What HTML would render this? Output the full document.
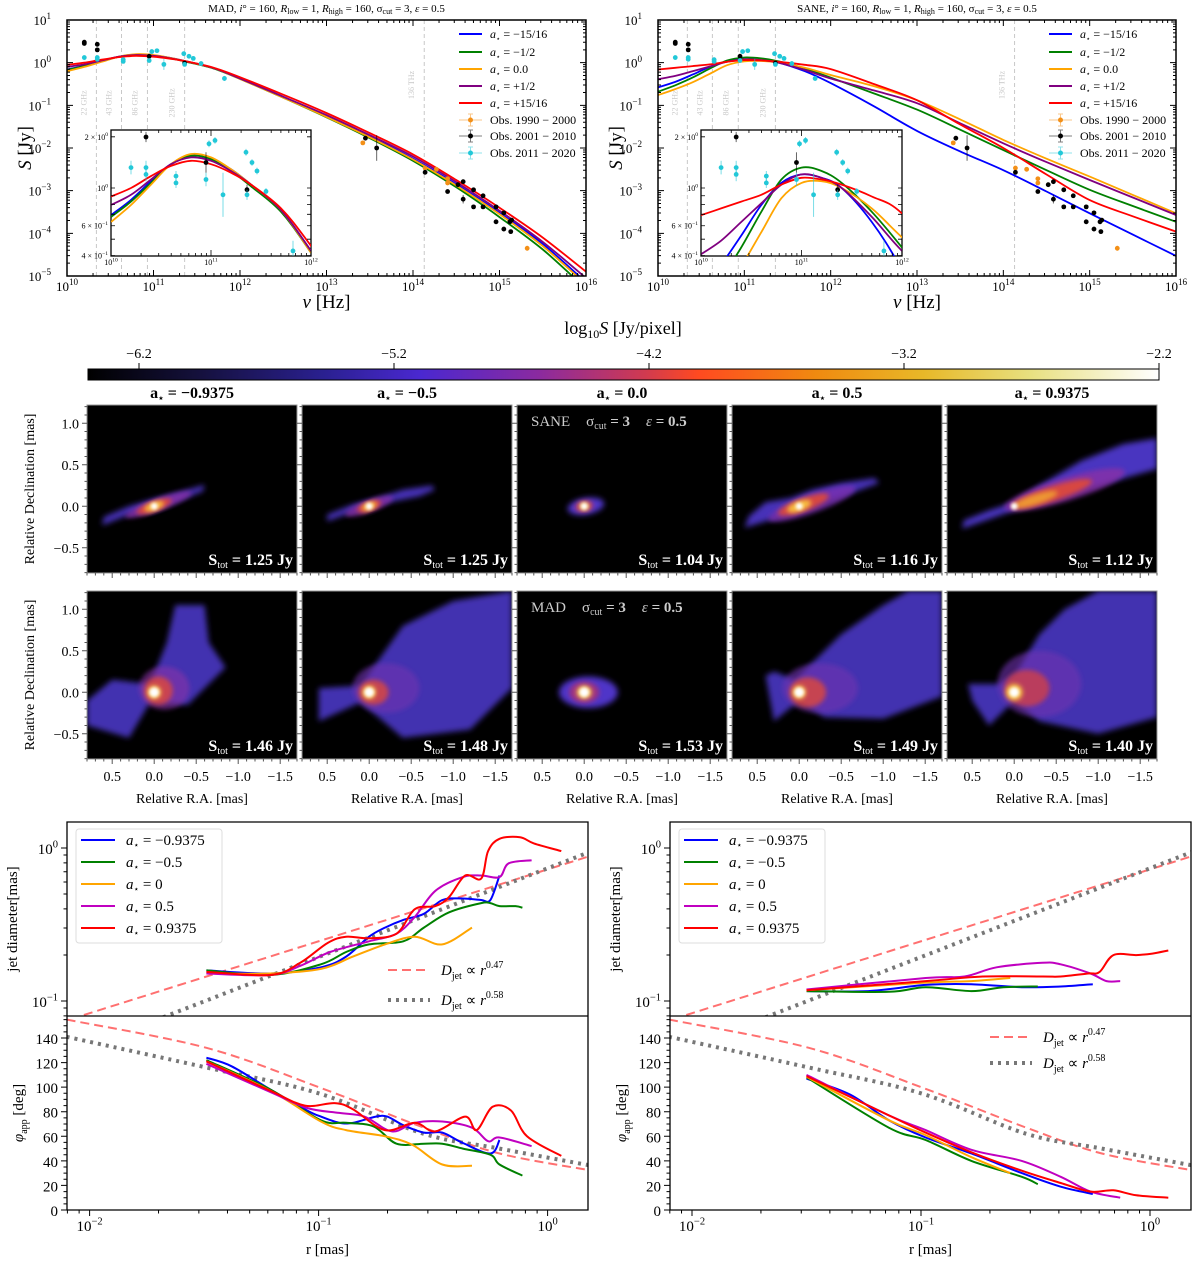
<!DOCTYPE html>
<html><head><meta charset="utf-8"><style>
html,body{margin:0;padding:0;background:#fff;}
svg{display:block;font-family:"Liberation Serif",serif;}
</style></head><body>
<svg id="fig" width="1200" height="1262" viewBox="0 0 1200 1262" xmlns="http://www.w3.org/2000/svg">
<defs>
<filter id="blur3" x="-30%" y="-30%" width="160%" height="160%"><feGaussianBlur stdDeviation="3"/></filter>
<filter id="blur2" x="-30%" y="-30%" width="160%" height="160%"><feGaussianBlur stdDeviation="2.5"/></filter>
<filter id="blur1" x="-30%" y="-30%" width="160%" height="160%"><feGaussianBlur stdDeviation="1.6"/></filter>
<linearGradient id="cmap" x1="0" x2="1" y1="0" y2="0">
<stop offset="0" stop-color="#000000"/><stop offset="0.1" stop-color="#14103a"/><stop offset="0.22" stop-color="#2a2090"/>
<stop offset="0.31" stop-color="#4a28d0"/><stop offset="0.42" stop-color="#8a2aa0"/><stop offset="0.52" stop-color="#d03a50"/>
<stop offset="0.57" stop-color="#ff4a20"/><stop offset="0.68" stop-color="#f08a10"/><stop offset="0.78" stop-color="#e8b828"/>
<stop offset="0.88" stop-color="#e8e080"/><stop offset="1" stop-color="#ffffff"/></linearGradient>
</defs>
</svg>
<script>
// ---------- DATA: SED ----------
const sedNu=[10,10.2,10.4,10.6,10.8,11.0,11.2,11.4,11.7,12,12.5,13,13.5,14,14.5,15,15.5,16];
const madBlue=[-0.16,-0.07,0.04,0.14,0.19,0.17,0.11,0.02,-0.13,-0.37,-0.8,-1.25,-1.73,-2.25,-2.85,-3.52,-4.25,-5.15];
const madGreen=[-0.17,-0.08,0.03,0.14,0.19,0.17,0.1,0.01,-0.14,-0.38,-0.82,-1.28,-1.77,-2.3,-2.92,-3.62,-4.38,-5.3];
const madOrange=[-0.2,-0.1,0.02,0.14,0.2,0.18,0.11,0.02,-0.13,-0.38,-0.82,-1.27,-1.75,-2.27,-2.88,-3.55,-4.3,-5.2];
const madPurple=[-0.1,-0.04,0.05,0.14,0.18,0.16,0.1,0.02,-0.13,-0.37,-0.8,-1.23,-1.7,-2.2,-2.8,-3.47,-4.2,-5.05];
const madRed=[-0.05,0.0,0.07,0.13,0.16,0.14,0.09,0.02,-0.12,-0.34,-0.75,-1.18,-1.65,-2.15,-2.75,-3.4,-4.1,-4.9];
const saneBlue=[-0.58,-0.45,-0.28,-0.1,0.03,0.08,0.06,0.0,-0.2,-0.48,-1.02,-1.6,-2.08,-2.52,-3.02,-3.53,-4.03,-4.53];
const saneGreen=[-0.68,-0.53,-0.35,-0.14,0.05,0.12,0.1,0.03,-0.14,-0.35,-0.72,-1.1,-1.57,-2.05,-2.52,-2.98,-3.36,-3.73];
const saneOrange=[-0.76,-0.62,-0.46,-0.26,-0.06,0.03,0.04,0.0,-0.12,-0.29,-0.55,-0.88,-1.33,-1.81,-2.25,-2.67,-3.1,-3.53];
const sanePurple=[-0.39,-0.31,-0.2,-0.09,0.02,0.08,0.06,0.0,-0.17,-0.37,-0.65,-0.95,-1.42,-1.89,-2.33,-2.75,-3.16,-3.57];
const saneRed=[-0.16,-0.12,-0.08,-0.04,0.02,0.06,0.05,0.02,-0.05,-0.15,-0.5,-0.88,-1.45,-2.0,-2.62,-3.22,-3.6,-3.96];
const spinLabels=['\u221215/16','\u22121/2','0.0','+1/2','+15/16'];
const obsBlackNu=[10.2,10.2,10.35,10.35,10.95,11.36,13.45,13.58,14.14,14.4,14.52,14.58,14.58,14.7,14.7,14.81,14.81,14.96,14.96,15.05,15.05,15.12,15.13,15.14];
const obsBlackS=[0.48,0.45,0.43,0.3,0.15,-0.01,-1.77,-2.0,-2.57,-3.02,-2.86,-2.79,-3.2,-2.98,-3.38,-3.12,-3.38,-3.38,-3.73,-3.52,-3.9,-3.73,-3.96,-3.69];
const obsBlackErr=[0.03,0.03,0.03,0.03,0.06,0.03,0.03,0.3,0.05,0.05,0.03,0.03,0.1,0.03,0.03,0.03,0.05,0.03,0.03,0.03,0.03,0.03,0.03,0.03];
const obsOrangeNu=[13.42,14.14,14.27,14.4,14.4,15.32];
const obsOrangeS=[-1.88,-2.47,-2.5,-2.72,-2.82,-4.35];
const obsOrangeErr=[0.05,0.05,0.05,0.05,0.05,0.06];
const obsCyanNu=[10.2,10.35,10.35,10.65,10.65,10.95,10.98,11.04,11.12,11.35,11.41,11.46,11.36,11.55,11.82];
const obsCyanS=[0.12,0.12,0.08,0.07,0.03,0.05,0.26,0.28,-0.04,0.21,0.15,0.1,-0.04,-0.02,-0.37];
const obsCyanErr=[0.04,0.04,0.04,0.03,0.03,0.04,0.02,0.02,0.13,0.02,0.02,0.02,0.03,0.02,0.06];
const refNu=[10.34,10.63,10.93,11.36,14.13];
const refNuLabels=['22 GHz','43 GHz','86 GHz','230 GHz','136 THz'];
// ---------- DATA: jet profiles ----------
const madDR={blue:[-1.49,-1.21,-0.99,-0.88,-0.78,-0.71,-0.63,-0.54,-0.46,-0.37,-0.29,-0.25,-0.21],
 green:[-1.49,-1.21,-0.99,-0.88,-0.78,-0.63,-0.54,-0.43,-0.29,-0.25,-0.21,-0.14,-0.11],
 orange:[-1.49,-1.21,-0.99,-0.85,-0.71,-0.58,-0.46,-0.33],
 purple:[-1.49,-1.21,-1.08,-0.95,-0.78,-0.66,-0.58,-0.49,-0.37,-0.29,-0.21,-0.17,-0.07],
 red:[-1.49,-1.21,-1.08,-0.96,-0.88,-0.78,-0.66,-0.58,-0.49,-0.43,-0.36,-0.29,-0.26,-0.21,-0.12,-0.06,0.06]};
const madDV={blue:[-0.80,-0.82,-0.78,-0.71,-0.58,-0.52,-0.47,-0.43,-0.34,-0.33,-0.34,-0.34,-0.18],
 green:[-0.80,-0.83,-0.76,-0.68,-0.63,-0.61,-0.52,-0.42,-0.36,-0.36,-0.38,-0.38,-0.39],
 orange:[-0.82,-0.82,-0.79,-0.71,-0.63,-0.58,-0.63,-0.52],
 purple:[-0.82,-0.83,-0.77,-0.68,-0.61,-0.56,-0.45,-0.28,-0.19,-0.18,-0.19,-0.10,-0.08],
 red:[-0.81,-0.83,-0.75,-0.62,-0.58,-0.59,-0.56,-0.40,-0.38,-0.32,-0.18,-0.20,-0.02,0.06,0.07,0.03,-0.02]};
const madPR={blue:[-1.49,-1.38,-1.21,-1.05,-0.99,-0.91,-0.85,-0.75,-0.70,-0.63,-0.54,-0.46,-0.37,-0.25,-0.21],
 green:[-1.49,-1.21,-0.99,-0.88,-0.76,-0.66,-0.54,-0.46,-0.37,-0.25,-0.21,-0.11],
 orange:[-1.49,-1.21,-0.99,-0.88,-0.71,-0.59,-0.46,-0.33],
 purple:[-1.49,-1.21,-1.05,-0.91,-0.80,-0.68,-0.58,-0.46,-0.33,-0.26,-0.21,-0.07],
 red:[-1.49,-1.21,-1.06,-0.93,-0.85,-0.71,-0.58,-0.49,-0.36,-0.31,-0.24,-0.16,-0.09,0.06]};
const madPV={blue:[124,117,98,81,76,71,71,76,76,69,63,63,54.5,46,57],
 green:[122,98,73,71,68,54,54,54,50,45,37,28],
 orange:[121,97,72,65,60,53,37,36],
 purple:[119,96,83,79,76,64,71,72,67,56,59,52],
 red:[121,97,85,87,82,65,71,64,76,65,84,81,60,44]};
const saneDR={blue:[-1.50,-1.23,-0.98,-0.78,-0.56,-0.39,-0.25],
 green:[-1.50,-1.14,-0.98,-0.78,-0.64,-0.49],
 orange:[-1.50,-0.98,-0.78,-0.61],
 purple:[-1.50,-0.98,-0.81,-0.67,-0.47,-0.39,-0.26,-0.19,-0.13],
 red:[-1.50,-0.98,-0.73,-0.47,-0.39,-0.27,-0.22,-0.16,-0.06,0.01,0.08]};
const saneDV={blue:[-0.935,-0.935,-0.895,-0.89,-0.91,-0.905,-0.89],
 green:[-0.935,-0.94,-0.91,-0.935,-0.91,-0.905],
 orange:[-0.93,-0.88,-0.87,-0.85],
 purple:[-0.925,-0.85,-0.84,-0.78,-0.75,-0.76,-0.82,-0.87,-0.87],
 red:[-0.93,-0.87,-0.84,-0.84,-0.84,-0.82,-0.81,-0.70,-0.70,-0.69,-0.67]};
const sanePR={blue:[-1.50,-1.31,-1.14,-0.98,-0.78,-0.56,-0.39,-0.25],
 green:[-1.50,-1.14,-0.98,-0.78,-0.56,-0.49],
 orange:[-1.50,-1.14,-0.98,-0.78,-0.61],
 purple:[-1.50,-1.14,-0.98,-0.78,-0.56,-0.39,-0.26,-0.13],
 red:[-1.50,-1.14,-0.98,-0.78,-0.56,-0.39,-0.26,-0.16,-0.06,0.08]};
const sanePV={blue:[107,94,73,59,46,30,19,13],
 green:[108,67,57,40,27,21],
 orange:[108.5,73,61,43,30],
 purple:[110,77,65,49,40,27,15,10],
 red:[109,77,63,47,32,22,15,16,12,10]};
const fitExp=[0.47,0.58];
const fitAnchorR=[-1.49,0.177];
const fitAnchorD=[-0.84,-0.03];
const phiFitR=[-2.1,-1.49,-1.0,-0.54,-0.21,0.18];
const phiFitDash=[155,132,100,67,46,32.5];
const phiFitDot=[141,116,95,62,50,36.5];
const jetSpinLabels=['\u22120.9375','\u22120.5','0','0.5','0.9375'];
// ---------- DATA: images ----------
const imgSpins=['\u22120.9375','\u22120.5','0.0','0.5','0.9375'];
const saneFlux=['1.25','1.25','1.04','1.16','1.12'];
const madFlux=['1.46','1.48','1.53','1.49','1.40'];
const cbTicks=[-6.2,-5.2,-4.2,-3.2,-2.2];

// ---------- helpers ----------
const NS='http://www.w3.org/2000/svg';
const svg=document.getElementById('fig');
function mk(tag,attrs,parent){const e=document.createElementNS(NS,tag);for(const k in attrs)e.setAttribute(k,attrs[k]);(parent||svg).appendChild(e);return e;}
function smooth(p){if(!p.length)return'';let d='M'+p[0][0].toFixed(1)+','+p[0][1].toFixed(1);
 for(let i=0;i<p.length-1;i++){const p0=p[i-1]||p[i],p1=p[i],p2=p[i+1],p3=p[i+2]||p2;
 const c1=[p1[0]+(p2[0]-p0[0])/6,p1[1]+(p2[1]-p0[1])/6],c2=[p2[0]-(p3[0]-p1[0])/6,p2[1]-(p3[1]-p1[1])/6];
 d+='C'+c1[0].toFixed(1)+','+c1[1].toFixed(1)+' '+c2[0].toFixed(1)+','+c2[1].toFixed(1)+' '+p2[0].toFixed(1)+','+p2[1].toFixed(1);}return d;}
function sup(base,exp,fs){return base+'<tspan dy="-'+(fs*0.45)+'" font-size="'+(fs*0.7)+'">'+exp+'</tspan>';}
let clipId=0;
function clip(x,y,w,h){const id='c'+(clipId++);const cp=mk('clipPath',{id:id},svg.querySelector('defs'));mk('rect',{x:x,y:y,width:w,height:h},cp);return 'url(#'+id+')';}
const spinColors=['#0000ff','#008000','#ffa500','#800080','#ff0000'];
const jetColors=['#0000ff','#008000','#ffa500','#c000c0','#ff0000'];
const keys=['blue','green','orange','purple','red'];

// ---------- SED panels ----------
function sedPanel(L,R,title,curves,iL,iR,name){
 const T=20,B=276;
 const g=mk('g',{});
 
 
 const X=v=>L+(v-10)*(R-L)/6, Y=v=>T+(1-v)*(B-T)/6;
 const t=mk('text',{x:(L+R)/2,y:12,'text-anchor':'middle','font-size':11},g);
 
 
 t.innerHTML=title;
 refNu.forEach((n,i)=>{
  const l=mk('line',{x1:X(n),x2:X(n),y1:T,y2:B,stroke:'#c8c8c8','stroke-dasharray':'4,3','stroke-width':1},g);
  
  
  const tx=mk('text',{x:0,y:0,'font-size':8,fill:'#c8c8c8','text-anchor':'middle',transform:'translate('+(X(n)-10)+','+(i==4?85:103)+') rotate(-90)'},g);
  
  
  tx.textContent=refNuLabels[i];
 });
 const cpMain=clip(L,T,R-L,B-T);
 const cg=mk('g',{'clip-path':cpMain},g);
 curves.forEach((c,k)=>{
  const p=mk('path',{d:smooth(sedNu.map((n,i)=>[X(n),Y(c[i])])),fill:'none',stroke:spinColors[k],'stroke-width':1.8},cg);
  
  
 });
 function obs(par,Xf,Yf,nu,s,err,col,nm){
  nu.forEach((n,i)=>{
   const e=mk('line',{x1:Xf(n),x2:Xf(n),y1:Yf(s[i]+err[i]),y2:Yf(s[i]-err[i]),stroke:col,'stroke-width':1,opacity:0.6},par);
   
   
   const m=mk('circle',{cx:Xf(n),cy:Yf(s[i]),r:2.4,fill:col},par);
   
   
  });
 }
 obs(cg,X,Y,obsOrangeNu,obsOrangeS,obsOrangeErr,'#f39018','obs-1990-2000');
 obs(cg,X,Y,obsBlackNu,obsBlackS,obsBlackErr,'#000','obs-2001-2010');
 obs(cg,X,Y,obsCyanNu,obsCyanS,obsCyanErr,'#22c8d8','obs-2011-2020');
 const fr=mk('rect',{x:L,y:T,width:R-L,height:B-T,fill:'none',stroke:'#000','stroke-width':1.5},g);
 
 
 let tk='';
 for(let d=10;d<=16;d++){const x=X(d);tk+=`M${x},${B}v-6M${x},${T}v6`;
  if(d<16)for(let m=2;m<10;m++){const xm=X(d+Math.log10(m));tk+=`M${xm},${B}v-3M${xm},${T}v3`;}}
 for(let d=-5;d<=1;d++){const y=Y(d);tk+=`M${L},${y}h6M${R},${y}h-6`;
  if(d<1)for(let m=2;m<10;m++){const ym=Y(d+Math.log10(m));tk+=`M${L},${ym}h3M${R},${ym}h-3`;}}
 const tp=mk('path',{d:tk,stroke:'#000','stroke-width':1,fill:'none'},g);
 
 
 for(let d=10;d<=16;d++){const tl=mk('text',{x:X(d),y:291,'text-anchor':'middle','font-size':13},g);
  
  
  tl.innerHTML=sup('10',d,13);}
 for(let d=-5;d<=1;d++){const tl=mk('text',{x:L-16,y:Y(d)+5,'text-anchor':'end','font-size':13},g);
  
  
  tl.innerHTML=sup('10',d<0?'\u2212'+(-d):d,13);}
 const xl=mk('text',{x:(L+R)/2,y:308,'text-anchor':'middle','font-size':19},g);
 
 
 xl.innerHTML='<tspan font-style="italic">\u03bd</tspan> [Hz]';
 const yl=mk('text',{x:0,y:0,'text-anchor':'middle','font-size':19,transform:'translate('+(L-36)+','+(T+128)+') rotate(-90)'},g);
 
 
 yl.innerHTML='<tspan font-style="italic">S</tspan> [Jy]';
 const lx=R-127, rows=[34,52,69,86,103,120,136,153];
 curves.forEach((c,k)=>{
  const ln=mk('line',{x1:lx,x2:lx+23,y1:rows[k],y2:rows[k],stroke:spinColors[k],'stroke-width':2},g);
  
  
  const lt=mk('text',{x:lx+31,y:rows[k]+4,'font-size':12},g);
  
  
  lt.innerHTML='<tspan font-style="italic">a</tspan><tspan font-size="7" dy="3">\u22c6</tspan><tspan dy="-3"> = '+spinLabels[k]+'</tspan>';
 });
 const oc=['#f39018','#000','#22c8d8'], on=['Obs. 1990 \u2212 2000','Obs. 2001 \u2212 2010','Obs. 2011 \u2212 2020'];
 oc.forEach((c,j)=>{const y=rows[5+j];
  const m=mk('path',{d:`M${lx},${y}h23M${lx+11.5},${y-6}v12M${lx+9},${y-6}h5M${lx+9},${y+6}h5`,stroke:c,'stroke-width':1,opacity:0.5,fill:'none'},g);
  
  
  const ci=mk('circle',{cx:lx+11.5,cy:y,r:2.5,fill:c},g);
  
  
  const lt=mk('text',{x:lx+31,y:y+4,'font-size':12},g);
  
  
  lt.textContent=on[j];});
 const iT=130,iB=256;
 const XI=v=>iL+(v-10)*(iR-iL)/2, YI=v=>188-v*170;
 const bg=mk('rect',{x:iL,y:iT,width:iR-iL,height:iB-iT,fill:'#fff',stroke:'#000','stroke-width':1.3},g);
 
 
 const ig=mk('g',{'clip-path':clip(iL,iT,iR-iL,iB-iT)},g);
 
 
 curves.forEach((c,k)=>{
  const p=mk('path',{d:smooth(sedNu.map((n,i)=>[XI(n),YI(c[i])])),fill:'none',stroke:spinColors[k],'stroke-width':1.8},ig);
  
  
 });
 obs(ig,XI,YI,obsBlackNu,obsBlackS,obsBlackErr,'#000','inset-obs-2001-2010');
 obs(ig,XI,YI,obsCyanNu,obsCyanS,obsCyanErr,'#22c8d8','inset-obs-2011-2020');
 let it='';
 for(let d=10;d<=12;d++){const x=XI(d);it+=`M${x},${iB}v-6M${x},${iT}v6`;
  if(d<12)for(let m=2;m<10;m++){const xm=XI(d+Math.log10(m));it+=`M${xm},${iB}v-3M${xm},${iT}v3`;}}
 [0.4,0.5,0.6,0.7,0.8,0.9,1,2].forEach(v=>{const y=YI(Math.log10(v));it+=`M${iL},${y}h4M${iR},${y}h-4`;});
 const ip=mk('path',{d:it,stroke:'#000','stroke-width':0.8,fill:'none'},g);
 
 
 [[2,'2 \u00d7 10','0'],[1,'10','0'],[0.6,'6 \u00d7 10','\u22121'],[0.4,'4 \u00d7 10','\u22121']].forEach(a=>{
  const tl=mk('text',{x:iL-3,y:YI(Math.log10(a[0]))+3,'text-anchor':'end','font-size':8},g);
  
  
  tl.innerHTML=sup(a[1],a[2],8);});
 for(let d=10;d<=12;d++){const tl=mk('text',{x:XI(d),y:iB+9,'text-anchor':'middle','font-size':8},g);
  
  
  tl.innerHTML=sup('10',d,8);}
}
const sub=(s)=>'<tspan font-size="8" dy="2">'+s+'</tspan><tspan dy="-2">';
sedPanel(67,586,'MAD, <tspan font-style="italic">i</tspan>\u00b0 = 160, <tspan font-style="italic">R</tspan>'+sub('low')+' = 1, </tspan><tspan font-style="italic">R</tspan>'+sub('high')+' = 160, \u03c3</tspan>'+sub('cut')+' = 3, </tspan><tspan font-style="italic">\u03b5</tspan> = 0.5',
 [madBlue,madGreen,madOrange,madPurple,madRed],111,311,'sed-panel-mad');
sedPanel(658,1176,'SANE, <tspan font-style="italic">i</tspan>\u00b0 = 160, <tspan font-style="italic">R</tspan>'+sub('low')+' = 1, </tspan><tspan font-style="italic">R</tspan>'+sub('high')+' = 160, \u03c3</tspan>'+sub('cut')+' = 3, </tspan><tspan font-style="italic">\u03b5</tspan> = 0.5',
 [saneBlue,saneGreen,saneOrange,sanePurple,saneRed],701,902,'sed-panel-sane');

// ---------- Colorbar ----------
(function(){
 const CL=88,CR=1159,v0=-6.4,v1=-2.2, CX=v=>CL+(v-v0)/(v1-v0)*(CR-CL);
 const r=mk('rect',{x:CL,y:369,width:CR-CL,height:11,fill:'url(#cmap)',stroke:'#000','stroke-width':1});
 
 
 cbTicks.forEach(v=>{
  const l=mk('line',{x1:CX(v),x2:CX(v),y1:363,y2:369,stroke:'#000','stroke-width':1});
  
  
  const t=mk('text',{x:CX(v),y:358,'text-anchor':'middle','font-size':14});
  
  
  t.textContent='\u2212'+Math.abs(v).toFixed(1);
 });
 const t=mk('text',{x:623,y:334,'text-anchor':'middle','font-size':18});
 
 
 t.innerHTML='log<tspan font-size="12" dy="4">10</tspan><tspan dy="-4" font-style="italic">S</tspan> [Jy/pixel]';
})();

// ---------- Images ----------
const shapes=[
 [ {p:[0.62,-0.23,0.3,-0.1,0,-0.06,-0.3,0.07,-0.58,0.18,-0.6,0.26,-0.3,0.17,0,0.09,0.3,0.0,0.6,-0.13],c:'#4632b8',b:1},
   {e:[-0.05,0.02,0.42,0.07,-20],c:'#8a30a8',o:0.8},{e:[0,0,0.22,0.06,-20],c:'#e84830',o:0.9},{e:[0,0,0.12,0.05,-20],c:'#f8c040'}],
 [ {p:[0.5,-0.18,0.2,-0.07,-0.2,0.04,-0.6,0.12,-0.78,0.2,-0.75,0.25,-0.4,0.2,-0.1,0.1,0.2,0.02,0.5,-0.1],c:'#4632b8',b:1},
   {e:[0,0,0.3,0.07,-20],c:'#8a30a8',o:0.8},{e:[0,0,0.15,0.055,-20],c:'#e84830',o:0.9},{e:[0,0,0.09,0.045,-20],c:'#f8c040'}],
 [ {e:[-0.02,0,0.22,0.1,-10],c:'#5034c8',b:1},{e:[0,0,0.11,0.07,-10],c:'#c03a60',o:0.9},{e:[0,0,0.06,0.05,0],c:'#f8c040'}],
 [ {p:[0.65,-0.26,0.3,-0.15,0.05,-0.08,-0.3,0.05,-0.6,0.15,-0.95,0.28,-0.9,0.34,-0.5,0.28,-0.15,0.2,0.1,0.1,0.4,0.05,0.6,-0.12],c:'#4632b8',b:1},
   {e:[-0.15,0.03,0.55,0.11,-20],c:'#7a30b0',o:0.8},{e:[-0.05,0.02,0.32,0.08,-20],c:'#e84a30',o:0.85},{e:[0,0,0.15,0.06,-20],c:'#f8c040'}],
 [ {p:[0.62,-0.27,0.2,-0.12,0,-0.05,-0.5,0.1,-1.0,0.25,-1.7,0.45,-1.7,0.82,-1.3,0.75,-0.8,0.55,-0.3,0.25,0,0.05,0.3,-0.05,0.6,-0.17],c:'#4a34c0',b:1},
   {e:[-0.6,0.2,0.75,0.14,-17],c:'#8a30a8',o:0.8},{e:[-0.45,0.15,0.5,0.09,-18],c:'#e84a30',o:0.85},{e:[-0.25,0.08,0.28,0.06,-18],c:'#f0a030',o:0.9}],
 [ {p:[0.8,-0.1,0.5,0.15,0.05,0.1,-0.15,0.6,-0.25,1.05,-0.6,1.05,-0.65,0.6,-0.85,0.3,-0.4,-0.15,0.05,-0.12,0.3,-0.55,0.8,-0.4],c:'#4230b0',b:1},
   {e:[-0.12,0.05,0.3,0.26,0],c:'#8a30a8',o:0.6},{e:[-0.05,0.02,0.17,0.17,0],c:'#e84a30',o:0.75},{e:[0,0,0.08,0.08,0],c:'#f8c040'}],
 [ {p:[0.6,0.05,0.1,0.08,-0.05,0.3,-0.4,0.8,-1.0,1.1,-1.7,1.22,-1.7,0.05,-1.2,-0.45,-0.4,-0.55,0.1,-0.12,0.6,-0.35],c:'#4230b0',b:1},
   {e:[-0.2,0.05,0.4,0.3,0],c:'#7030b0',o:0.6},{e:[-0.05,0,0.18,0.15,0],c:'#e84a30',o:0.75},{e:[0,0,0.08,0.08,0],c:'#f8c040'}],
 [ {e:[-0.05,0,0.35,0.19,0],c:'#5034c8',b:1},{e:[0,0,0.18,0.13,0],c:'#b03070',o:0.8},{e:[0,0,0.09,0.08,0],c:'#f8c040'}],
 [ {p:[0.3,0.25,0.05,0.15,-0.5,0.7,-1.0,1.05,-1.3,1.22,-1.7,1.22,-1.7,-0.05,-1.0,-0.32,-0.3,-0.3,0,-0.1,0.3,-0.35,0.4,0.2],c:'#4230b0',b:1},
   {e:[-0.25,0.05,0.45,0.3,0],c:'#7030b0',o:0.6},{e:[-0.1,0,0.22,0.18,0],c:'#e84a30',o:0.75},{e:[0,0,0.08,0.08,0],c:'#f8c040'}],
 [ {p:[0.55,0.1,0.2,0.1,0,0.2,-0.3,0.7,-0.6,1.0,-1.0,1.22,-1.7,1.22,-1.7,-0.3,-1.0,-0.5,-0.3,-0.35,0,-0.1,0.3,-0.4,0.5,-0.1],c:'#4230b0',b:1},
   {e:[-0.3,0.1,0.5,0.4,0],c:'#7030b0',o:0.6},{e:[-0.15,0.05,0.27,0.22,0],c:'#d84040',o:0.75},{e:[0,0,0.1,0.1,0],c:'#f8c040'}]
];
for(let row=0;row<2;row++)for(let col=0;col<5;col++){
 const L=87+col*215, T=row?591:405, W=210, H=168;
 const PX=ra=>L+(0.8-ra)*84, PY=dec=>T+(1.22-dec)*83;
 const g=mk('g',{});
 
 
 const bg=mk('rect',{x:L,y:T,width:W,height:H,fill:'#000'},g);
 
 
 const cg=mk('g',{'clip-path':clip(L,T,W,H)},g);
 shapes[row*5+col].forEach(s=>{
  let e;
  if(s.p){const pts=[];for(let i=0;i<s.p.length;i+=2)pts.push(PX(s.p[i]).toFixed(1)+','+PY(s.p[i+1]).toFixed(1));
   e=mk('polygon',{points:pts.join(' '),fill:s.c,filter:'url(#blur3)'},cg);}
  else{const [cx,cy,rx,ry,rot]=s.e;
   e=mk('ellipse',{cx:PX(cx),cy:PY(cy),rx:rx*84,ry:ry*83,fill:s.c,'fill-opacity':s.o||1,filter:s.b?'url(#blur3)':'url(#blur2)',transform:`rotate(${rot} ${PX(cx)} ${PY(cy)})`},cg);}
  
  
 });
 const core=mk('circle',{cx:PX(0),cy:PY(0),r:row?5:3.5,fill:'#fff',filter:'url(#blur1)'},cg);
 
 
 const fr=mk('rect',{x:L,y:T,width:W,height:H,fill:'none',stroke:'#999','stroke-width':1},g);
 
 
 let tk='';
 for(let k=-8;k<=12;k++){const v=k/10,y=PY(v);if(y<T||y>T+H)continue;tk+=`M${L},${y}h${k%5==0?-5:-2.5}`;}
 for(let k=-17;k<=8;k++){const v=k/10,x=PX(v);if(x<L||x>L+W)continue;tk+=`M${x},${T+H}v${k%5==0?5:2.5}`;}
 const tp=mk('path',{d:tk,stroke:'#555','stroke-width':1,fill:'none'},g);
 
 
 const st=mk('text',{x:L+W-4,y:T+H-8,'text-anchor':'end','font-size':16,'font-weight':'bold',fill:'#fff'},g);
 
 
 st.innerHTML='S<tspan font-size="10" dy="3" font-weight="normal">tot</tspan><tspan dy="-3"> = '+(row?madFlux:saneFlux)[col]+' Jy</tspan>';
 if(col==0){
  [1.0,0.5,0.0,-0.5].forEach(v=>{const t=mk('text',{x:L-8,y:PY(v)+5,'text-anchor':'end','font-size':14},g);
   
   
   t.textContent=(v<0?'\u2212':'')+Math.abs(v).toFixed(1);});
  const yl=mk('text',{x:0,y:0,'text-anchor':'middle','font-size':14,transform:`translate(34,${T+H/2}) rotate(-90)`},g);
  
  
  yl.textContent='Relative Declination [mas]';
 }
 if(row==1){
  [0.5,0.0,-0.5,-1.0,-1.5].forEach(v=>{const t=mk('text',{x:PX(v),y:T+H+22,'text-anchor':'middle','font-size':14},g);
   
   
   t.textContent=(v<0?'\u2212':'')+Math.abs(v).toFixed(1);});
  const xl=mk('text',{x:L+W/2,y:T+H+44,'text-anchor':'middle','font-size':14},g);
  
  
  xl.textContent='Relative R.A. [mas]';
 } else {
  const ct=mk('text',{x:L+W/2,y:398,'text-anchor':'middle','font-size':16,'font-weight':'bold'},g);
  
  
  ct.innerHTML='a<tspan font-size="9" dy="3">\u22c6</tspan><tspan dy="-3"> = '+imgSpins[col]+'</tspan>';
 }
 if(col==2){
  const an=mk('text',{x:L+14,y:T+21,'font-size':15,fill:'#ccc'},g);
  
  
  an.innerHTML=(row?'MAD':'SANE')+'<tspan dx="16">\u03c3</tspan><tspan font-size="10" dy="3">cut</tspan><tspan dy="-3" font-weight="bold"> = 3</tspan><tspan dx="16" font-style="italic">\u03b5</tspan><tspan font-weight="bold"> = 0.5</tspan>';
 }
}

// ---------- Jet profile panels ----------
function jetPanel(L,R,x0,DR,DV,PR,PV,name,fitLegendInLower){
 const T=822,Mid=1016,B=1210;
 const X=v=>x0+(v+2)*229, YD=v=>848-v*153, YP=v=>1210-v*1.2286;
 const g=mk('g',{});
 
 
 const gu=mk('g',{'clip-path':clip(L,T,R-L,Mid-T)},g);
 const gl=mk('g',{'clip-path':clip(L,Mid,R-L,B-Mid)},g);
 const lr=[-2.2,0.3];
 [0,1].forEach(j=>{
  const pts=lr.map(r=>[X(r),YD(fitAnchorD[j]+fitExp[j]*(r-fitAnchorR[j]))]);
  const l=mk('line',{x1:pts[0][0],y1:pts[0][1],x2:pts[1][0],y2:pts[1][1],stroke:j?'#777':'#ff7070','stroke-width':j?4:2,'stroke-dasharray':j?'3,5':'9,5'},gu);
  
  
 });
 [phiFitDash,phiFitDot].forEach((arr,j)=>{
  const p=mk('path',{d:smooth(phiFitR.map((r,i)=>[X(r),YP(arr[i])])),fill:'none',stroke:j?'#777':'#ff7070','stroke-width':j?4:2,'stroke-dasharray':j?'3,5':'9,5'},gl);
  
  
 });
 keys.forEach((k,i)=>{
  const a=mk('path',{d:smooth(DR[k].map((r,n)=>[X(r),YD(DV[k][n])])),fill:'none',stroke:jetColors[i],'stroke-width':2},gu);
  
  
  const b=mk('path',{d:smooth(PR[k].map((r,n)=>[X(r),YP(PV[k][n])])),fill:'none',stroke:jetColors[i],'stroke-width':2},gl);
  
  
 });
 const fr=mk('path',{d:`M${L},${T}H${R}V${B}H${L}ZM${L},${Mid}H${R}`,fill:'none',stroke:'#000','stroke-width':1.3},g);
 
 
 let tk='';
 for(let d=-3;d<=0;d++)for(let m=1;m<10;m++){const v=d+Math.log10(m);const x=X(v);if(x<L-0.5||x>R+0.5)continue;tk+=`M${x},${B}v${m==1?6:3.5}`;}
 [0.08,0.09,0.1,0.2,0.3,0.4,0.5,0.6,0.7,0.8,0.9,1].forEach(v=>{const y=YD(Math.log10(v));tk+=`M${L},${y}h${(v==0.1||v==1)?-6:-3.5}`;});
 for(let v=0;v<=155;v+=5){const y=YP(v);tk+=`M${L},${y}h${v%20==0?-6:-3.5}`;}
 const tp=mk('path',{d:tk,stroke:'#000','stroke-width':1,fill:'none'},g);
 
 
 for(let d=-2;d<=0;d++){const t=mk('text',{x:X(d),y:1231,'text-anchor':'middle','font-size':15},g);
  
  
  t.innerHTML=sup('10',d<0?'\u2212'+(-d):d,15);}
 [[0,'0'],[-1,'\u22121']].forEach(a=>{const t=mk('text',{x:L-9,y:YD(a[0])+6,'text-anchor':'end','font-size':15},g);
  
  
  t.innerHTML=sup('10',a[1],15);});
 for(let v=0;v<=140;v+=20){const t=mk('text',{x:L-9,y:YP(v)+6,'text-anchor':'end','font-size':15},g);
  
  
  t.textContent=v;}
 const xl=mk('text',{x:(L+R)/2,y:1254,'text-anchor':'middle','font-size':15},g);
 
 
 xl.textContent='r [mas]';
 const y1=mk('text',{x:0,y:0,'text-anchor':'middle','font-size':15,transform:`translate(${L-50},919) rotate(-90)`},g);
 
 
 y1.textContent='jet diameter[mas]';
 const y2=mk('text',{x:0,y:0,'text-anchor':'middle','font-size':15,transform:`translate(${L-44},1113) rotate(-90)`},g);
 
 
 y2.innerHTML='<tspan font-style="italic">\u03c6</tspan><tspan font-size="10" dy="4">app</tspan><tspan dy="-4"> [deg]</tspan>';
 const lb=mk('rect',{x:L+9,y:829,width:146,height:114,fill:'#fff',stroke:'#ddd','stroke-width':1,rx:3},g);
 
 
 keys.forEach((k,i)=>{const y=840+i*22;
  const l=mk('line',{x1:L+14,x2:L+48,y1:y,y2:y,stroke:jetColors[i],'stroke-width':2},g);
  
  
  const t=mk('text',{x:L+59,y:y+5,'font-size':15},g);
  
  
  t.innerHTML='<tspan font-style="italic">a</tspan><tspan font-size="9" dy="3">\u22c6</tspan><tspan dy="-3"> = '+jetSpinLabels[i]+'</tspan>';});
 const fy=fitLegendInLower?[1037,1063]:[970,1000], fx=fitLegendInLower?L+320:L+321;
 [0,1].forEach(j=>{
  const l=mk('line',{x1:fx,x2:fx+42,y1:fy[j],y2:fy[j],stroke:j?'#777':'#ff7070','stroke-width':j?4:2,'stroke-dasharray':j?'3,5':'9,5'},g);
  
  
  const t=mk('text',{x:fx+53,y:fy[j]+5,'font-size':15},g);
  
  
  t.innerHTML='<tspan font-style="italic">D</tspan><tspan font-size="10" dy="4">jet</tspan><tspan dy="-4"> \u221d </tspan><tspan font-style="italic">r</tspan><tspan font-size="10" dy="-7">'+fitExp[j]+'</tspan>';
 });
}
jetPanel(67,588,89.6,madDR,madDV,madPR,madPV,'jet-profile-mad',false);
jetPanel(670,1191,692,saneDR,saneDV,sanePR,sanePV,'jet-profile-sane',true);
</script>
</body></html>
